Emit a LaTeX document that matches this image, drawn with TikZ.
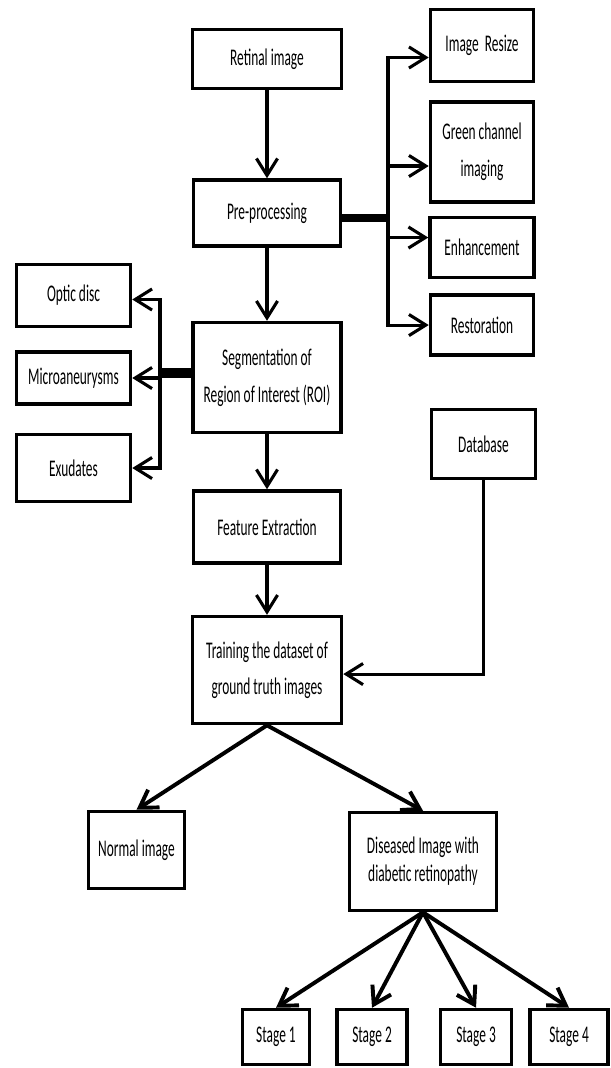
\documentclass[tikz,border=0pt]{standalone}
\usepackage{fontspec}
\setmainfont{Carlito}[FakeStretch=0.56]
\usetikzlibrary{arrows.meta, positioning}

\tikzset{
  block/.style = {draw, line width=2.5pt, inner sep=0pt, align=center,
                  font=\fontsize{17pt}{26pt}\selectfont},
  arr/.style   = {-{Straight Barb[length=12pt,width=15pt]}, line width=2.2pt},
  fan/.style   = {arr, line width=2.8pt},
  stub/.style  = {line width=5.5pt},
}

\begin{document}
\begin{tikzpicture}
\useasboundingbox (0,0) rectangle (15.275,-26.7);

% main column
\node[block, minimum width=3.725cm, minimum height=1.475cm] (retina) at (6.675,-1.475) {Retinal image};
\node[block, minimum width=3.675cm, minimum height=1.65cm]  (prep)  [below=2.2cm of retina] {Pre-processing};
\node[block, minimum width=3.7cm,   minimum height=2.75cm]  (seg)   [below=1.825cm of prep]  {Segmentation of\\Region of Interest (ROI)};
\node[block, minimum width=3.675cm, minimum height=1.8cm]   (feat)  [below=1.375cm of seg]   {Feature Extraction};
\node[block, minimum width=3.725cm, minimum height=2.675cm] (train) [below=1.25cm of feat]   {Training the dataset of\\ground truth images};

% pre-processing steps
\node[block, minimum width=2.575cm, minimum height=1.8cm] (resize)  at (12.05,-1.1375)        {Image~~Resize};
\node[block, minimum width=2.575cm, minimum height=2.5cm] (green)   [below=0.425cm of resize] {Green channel\\imaging};
\node[block, minimum width=2.6cm,   minimum height=1.5cm] (enhance) [below=0.3cm of green]    {Enhancement};
\node[block, minimum width=2.575cm, minimum height=1.5cm] (restore) [below=0.35cm of enhance] {Restoration};

% regions of interest
\node[block, minimum width=2.85cm, minimum height=1.55cm]  (optic) at (1.8375,-7.3875)       {Optic disc};
\node[block, minimum width=2.85cm, minimum height=1.3cm]   (micro) [below=0.55cm of optic]  {Microaneurysms};
\node[block, minimum width=2.85cm, minimum height=1.675cm] (exud)  [below=0.675cm of micro] {Exudates};

\node[block, minimum width=2.6cm, minimum height=1.725cm] (db) at (12.0875,-11.1) {Database};

% results
\node[block, minimum width=2.4cm,   minimum height=1.925cm] (normal)  at (3.4125,-21.25)  {Normal image};
\node[block, minimum width=3.675cm, minimum height=2.45cm,
      font=\fontsize{17pt}{20pt}\selectfont]                (disease) at (10.575,-21.5375) {Diseased Image with\\diabetic retinopathy};

\node[block, minimum width=1.675cm, minimum height=1.375cm] (s1) at (6.9,-25.925)       {Stage 1};
\node[block, minimum width=1.75cm,  minimum height=1.375cm] (s2) [right=0.6cm of s1]   {Stage 2};
\node[block, minimum width=1.775cm, minimum height=1.375cm] (s3) [right=0.75cm of s2]  {Stage 3};
\node[block, minimum width=1.95cm,  minimum height=1.375cm] (s4) [right=0.375cm of s3] {Stage 4};

% main flow
\draw[arr] (retina) -- (prep);
\draw[arr] (prep) -- (seg);
\draw[arr] (seg) -- (feat);
\draw[arr] (feat) -- (train);

% pre-processing branch
\coordinate (pbr) at (9.7,-5.45);
\draw[stub] (prep.east |- pbr) -- (pbr);
\draw[arr] (pbr) |- ([yshift=-0.3cm]resize.west);
\draw[arr] (pbr) |- ([yshift=-0.35cm]green.west);
\draw[arr] (pbr) |- ([yshift=0.25cm]enhance.west);
\draw[arr] (pbr) |- (restore.west);

% segmentation branch
\coordinate (sbr) at (4.0,-9.325);
\draw[stub, line width=6.5pt] (seg.west |- sbr) -- (sbr);
\draw[arr] (sbr) |- ([yshift=-0.1cm]optic.east);
\draw[arr] (sbr) |- (micro.east);
\draw[arr] (sbr) |- (exud.east);

\draw[arr] (db.south) |- ([yshift=-0.1cm]train.east);

% classification
\draw[fan] (train.south) -- (normal.north);
\draw[fan] (train.south) -- (disease.north);
\foreach \s in {s1,s2,s3,s4}
  \draw[fan] (disease.south) -- (\s.north);

\end{tikzpicture}
\end{document}
